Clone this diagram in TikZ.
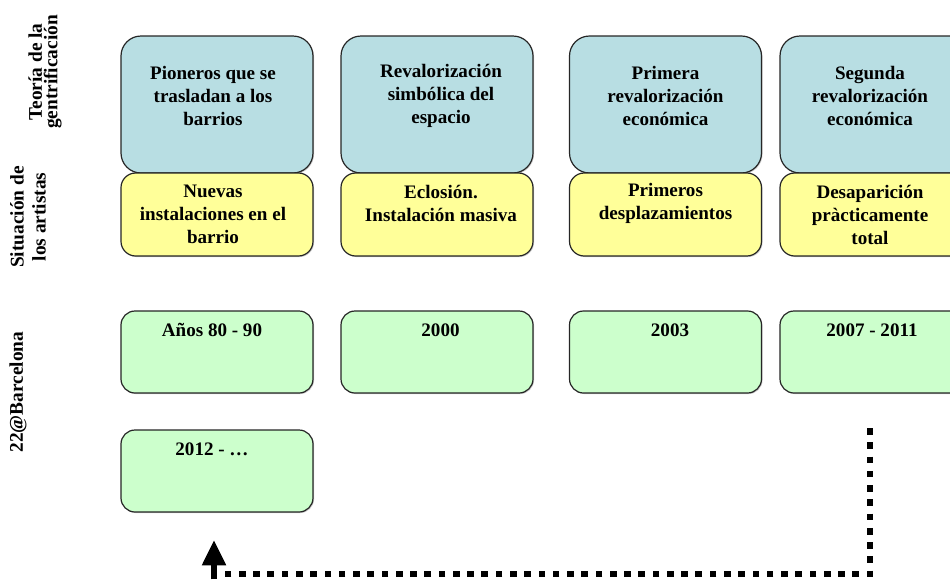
\documentclass[tikz,border=0pt]{standalone}
\usepackage{fontspec}
\setmainfont{Liberation Serif}
\usetikzlibrary{arrows.meta,shadows}

\definecolor{tblue}{RGB}{184,222,227}
\definecolor{tyellow}{RGB}{255,255,153}
\definecolor{tgreen}{RGB}{204,255,204}

\tikzset{
    caja/.style={draw=black!85,line width=0.9pt,minimum width=144pt,
        drop shadow={shadow xshift=0.8pt,shadow yshift=-0.8pt,opacity=0.4}},
    teo/.style={caja,fill=tblue,rounded corners=15pt,minimum height=102.75pt},
    art/.style={caja,fill=tyellow,rounded corners=11pt,minimum height=62.25pt},
    fecha/.style={caja,fill=tgreen,rounded corners=10.5pt,minimum height=61.5pt},
    txt/.style={align=center,font=\fontsize{14.3}{17.25}\selectfont\bfseries},
    fila/.style={align=center,rotate=90},
}

\begin{document}
\begin{tikzpicture}[x=0.75pt,y=-0.75pt]
    \useasboundingbox (0,0) rectangle (950,579);
    \clip (0,0) rectangle (950,579);

    % filas
    \node[fila,font=\fontsize{14.5}{11.5}\selectfont\bfseries] (fteo) at (45,72) {Teoría de la\\gentrificación};
    \node[fila,font=\fontsize{14.5}{16.5}\selectfont\bfseries] (fart) at (28,217) {Situación de\\los artistas};
    \node[fila,font=\fontsize{14.5}{17}\selectfont\bfseries] (fbcn) at (18,392) {22@Barcelona};

    % teoria
    \node[teo] (b1) at (217,104.5) {};
    \node[teo] (b2) at (437,104.5) {};
    \node[teo] (b3) at (665.5,104.5) {};
    \node[teo] (b4) at (876,104.5) {};
    \node[txt] (tb1) at (213,96) {Pioneros que se\\trasladan a los\\barrios};
    \node[txt] (tb2) at (441,96) {Revalorización\\simbólica del\\espacio};
    \node[txt] (tb3) at (665.5,96) {Primera\\revalorización\\económica};
    \node[txt] (tb4) at (870,96) {Segunda\\revalorización\\económica};

    % artistas
    \node[art] (y1) at (217,214.5) {};
    \node[art] (y2) at (437,214.5) {};
    \node[art] (y3) at (665.5,214.5) {};
    \node[art] (y4) at (876,214.5) {};
    \node[txt] (ty1) at (213,214.5) {Nuevas\\instalaciones en el\\barrio};
    \node[txt] (ty2) at (441,203) {Eclosión.\\Instalación masiva};
    \node[txt] (ty3) at (665.5,203) {Primeros\\desplazamientos};
    \node[txt] (ty4) at (870,214.5) {Desaparición\\pràcticamente\\total};

    % fechas
    \node[fecha] (g1) at (217,352) {};
    \node[fecha] (g2) at (437,352) {};
    \node[fecha] (g3) at (665.5,352) {};
    \node[fecha] (g4) at (876,352) {};
    \node[fecha] (g5) at (217,471) {};
    \node[txt] (tg1) at (212,330) {Años 80 - 90};
    \node[txt] (tg2) at (440.5,330) {2000};
    \node[txt] (tg3) at (670,330) {2003};
    \node[txt] (tg4) at (872,330) {2007 - 2011};
    \node[txt] (tg5) at (212,449) {2012 - \dots};

    % vuelta
    \coordinate (c1) at (870,428);
    \coordinate (c2) at (870,574);
    \coordinate (c3) at (214,574);
    \coordinate (c4) at (214,540);
    \draw[line width=4.9pt,dash pattern=on 5pt off 5.7pt] (c1) -- (c2) -- ([xshift=7.5pt]c3);
    \draw[line width=4.5pt,-{Triangle[width=17pt,length=19pt]}] ([yshift=-4pt]c3) -- (c4);
\end{tikzpicture}
\end{document}
